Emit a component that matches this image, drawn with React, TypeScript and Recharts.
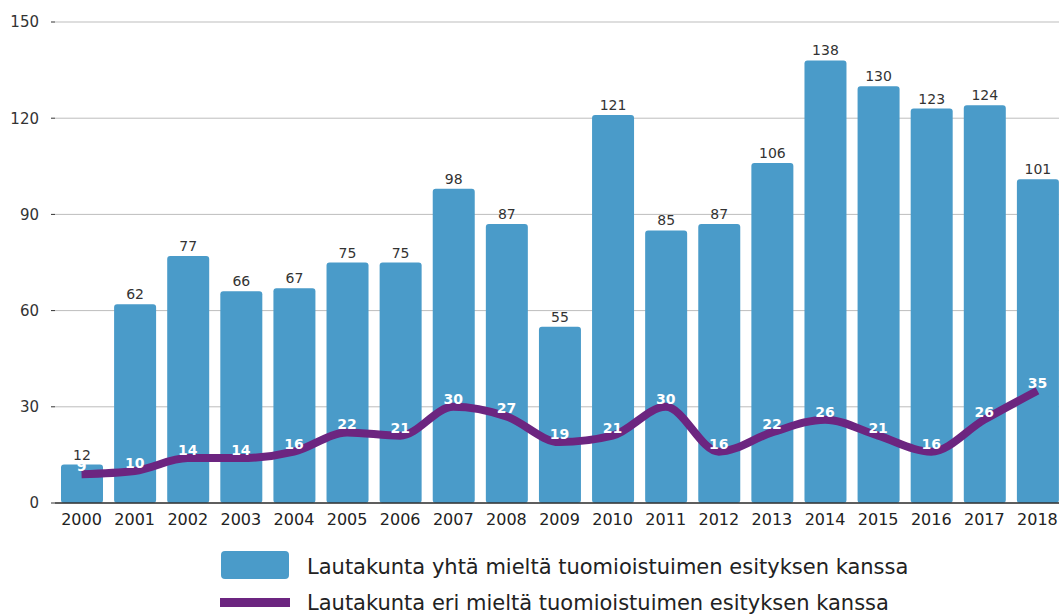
import React from 'react'
import {
  ComposedChart,
  Bar,
  Line,
  XAxis,
  YAxis,
  CartesianGrid,
  LabelList,
} from 'recharts'

const years = ['2000', '2001', '2002', '2003', '2004', '2005', '2006', '2007', '2008', '2009', '2010', '2011', '2012', '2013', '2014', '2015', '2016', '2017', '2018']
const samaa = [12, 62, 77, 66, 67, 75, 75, 98, 87, 55, 121, 85, 87, 106, 138, 130, 123, 124, 101]
const eri = [9, 10, 14, 14, 16, 22, 21, 30, 27, 19, 21, 30, 16, 22, 26, 21, 16, 26, 35]
const yTicks = [0, 30, 60, 90, 120, 150]

const labelSamaa = 'Lautakunta yhtä mieltä tuomioistuimen esityksen kanssa'
const labelEri = 'Lautakunta eri mieltä tuomioistuimen esityksen kanssa'

const BLUE = '#4A9BC9'
const PURPLE = '#6C2580'
const FONT = '"DejaVu Sans", sans-serif'

const data = years.map((y, i) => ({ year: y, samaa: samaa[i], eri: eri[i] }))

export default function App() {
  return (
    <div style={{ position: 'absolute', left: 0, top: 0, width: 1059, height: 615, overflow: 'hidden', background: '#fff', fontFamily: FONT }}>
      <ComposedChart width={1064} height={535} data={data} margin={{ top: 22, right: 0, left: 0, bottom: 0 }}>
        <CartesianGrid vertical={false} stroke="#BDBDBD" strokeWidth={1} />
        <XAxis
          dataKey="year"
          height={32}
          tick={{ fill: '#222', fontSize: 16, fontFamily: FONT }}
          axisLine={{ stroke: '#333', strokeWidth: 1.5 }}
          tickLine={false}
          tickMargin={5}
          interval={0}
        />
        <YAxis
          width={55}
          domain={[0, 150]}
          ticks={yTicks}
          tick={{ fill: '#333', fontSize: 15, fontFamily: FONT }}
          axisLine={false}
          tickLine={{ stroke: '#333' }}
          tickSize={4}
          tickMargin={12}
        />
        <Bar dataKey="samaa" fill={BLUE} barSize={42} radius={3} isAnimationActive={false}>
          <LabelList dataKey="samaa" position="top" offset={5} fill="#333" fontSize={14} fontFamily={FONT} />
        </Bar>
        <Line
          dataKey="eri"
          type="monotone"
          stroke={PURPLE}
          strokeWidth={8}
          dot={false}
          activeDot={false}
          isAnimationActive={false}
        >
          <LabelList dataKey="eri" position="top" offset={3} fill="#fff" fontSize={14} fontWeight="bold" fontFamily={FONT} />
        </Line>
      </ComposedChart>
      <div style={{ position: 'absolute', left: 221, top: 551, width: 68, height: 28, borderRadius: 4, background: BLUE }} />
      <div style={{ position: 'absolute', left: 307, top: 553, height: 28, lineHeight: '28px', fontSize: 21, color: '#222', whiteSpace: 'nowrap' }}>
        {labelSamaa}
      </div>
      <div style={{ position: 'absolute', left: 220, top: 598, width: 70, height: 9, background: PURPLE }} />
      <div style={{ position: 'absolute', left: 307, top: 589, height: 28, lineHeight: '28px', fontSize: 21, color: '#222', whiteSpace: 'nowrap' }}>
        {labelEri}
      </div>
    </div>
  )
}
